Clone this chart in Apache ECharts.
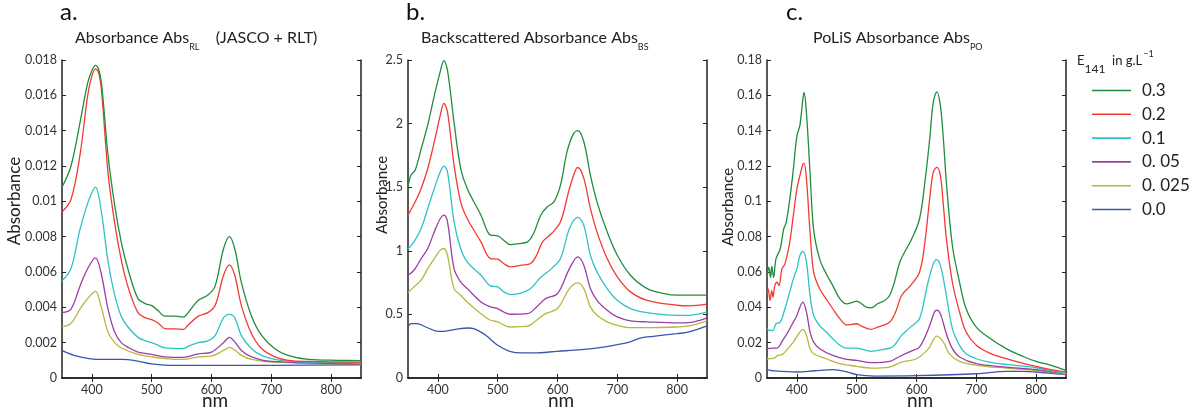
<!DOCTYPE html>
<html><head><meta charset="utf-8">
<script src="https://cdn.jsdelivr.net/npm/echarts@6/dist/echarts.min.js"></script>
<style>html,body{margin:0;padding:0;background:#fff}#c{width:1203px;height:412px}</style>
</head><body><div id="c"></div>
<script>
// ---- data ----
const seriesNames = ['0.3', '0.2', '0.1', '0. 05', '0. 025', '0.0'];
const colors = ['#1f8d3c', '#f23a32', '#2cc3c6', '#9b3ea6', '#b5b83c', '#3a56ad'];
const xTicks = [400, 500, 600, 700, 800];

// panel a: Absorbance Abs_RL
const a_30 = [[350,0.0108],[365,0.0120],[382,0.0148],[393,0.0167],[400,0.0174],[406,0.0177],[411,0.0175],[416,0.0167],[427,0.0126],[438,0.0098],[449,0.0077],[460,0.0062],[477,0.0045],[490,0.0042],[500,0.0041],[511,0.0038],[522,0.0035],[540,0.0035],[553,0.00345],[561,0.0037],[578,0.0044],[594,0.0047],[606,0.0052],[620,0.0073],[630,0.0080],[639,0.0073],[650,0.0054],[667,0.0035],[684,0.0024],[706,0.00166],[728,0.00128],[762,0.00105],[812,0.0010],[850,0.00098]];
const a_20 = [[350,0.0094],[365,0.0101],[380,0.0126],[393,0.0160],[400,0.0171],[406,0.0175],[411,0.0173],[416,0.0163],[427,0.0116],[438,0.0088],[449,0.0067],[460,0.0052],[477,0.0037],[490,0.0034],[500,0.0033],[511,0.0031],[522,0.0028],[540,0.00278],[553,0.00275],[561,0.0030],[578,0.0035],[594,0.0037],[606,0.0041],[620,0.0058],[630,0.0064],[639,0.0058],[650,0.0041],[667,0.0025],[684,0.00166],[706,0.0012],[728,0.0010],[762,0.00094],[850,0.0009]];
const a_10 = [[350,0.0055],[365,0.0062],[380,0.0084],[393,0.0099],[400,0.0105],[406,0.0108],[415,0.0096],[427,0.0066],[438,0.0047],[449,0.0035],[460,0.0029],[477,0.0023],[490,0.0021],[500,0.0020],[511,0.00185],[522,0.0017],[553,0.00166],[561,0.0018],[578,0.0020],[594,0.0021],[606,0.0024],[620,0.0034],[630,0.0036],[639,0.0034],[650,0.0024],[667,0.00166],[684,0.00128],[706,0.00105],[728,0.00094],[850,0.00085]];
const a_05 = [[350,0.0037],[365,0.0039],[380,0.0052],[393,0.0062],[406,0.0068],[415,0.0060],[427,0.0039],[438,0.0026],[449,0.0020],[460,0.00175],[477,0.00147],[500,0.00134],[522,0.0012],[553,0.00117],[578,0.00137],[600,0.00147],[620,0.0020],[630,0.0023],[640,0.0020],[650,0.00156],[667,0.0012],[700,0.00094],[850,0.0008]];
const a_025 = [[350,0.0029],[365,0.0031],[380,0.0039],[393,0.0045],[406,0.0049],[415,0.0041],[427,0.0026],[438,0.0020],[449,0.0017],[477,0.00134],[500,0.0012],[522,0.0011],[553,0.00105],[578,0.0012],[600,0.00124],[620,0.00156],[630,0.00173],[640,0.00156],[650,0.00128],[667,0.00105],[700,0.0009],[850,0.00079]];
const a_00 = [[350,0.00156],[370,0.00128],[395,0.0011],[420,0.00105],[450,0.00105],[470,0.0010],[500,0.0008],[530,0.00072],[600,0.00072],[700,0.00072],[850,0.00075]];

// panel b: Backscattered Absorbance Abs_BS
const b_30 = [[350,1.50],[355,1.595],[362,1.634],[372,1.80],[383,1.99],[394,2.22],[404,2.41],[410,2.495],[416,2.42],[427,2.01],[438,1.65],[449,1.49],[472,1.28],[488,1.123],[500,1.118],[510,1.083],[521,1.049],[535,1.057],[550,1.07],[560,1.136],[572,1.28],[583,1.346],[594,1.385],[605,1.516],[616,1.78],[627,1.923],[634,1.944],[644,1.857],[655,1.595],[666,1.385],[683,1.149],[700,0.965],[722,0.808],[750,0.703],[778,0.664],[800,0.651],[850,0.651]];
const b_20 = [[350,1.28],[362,1.385],[372,1.49],[383,1.647],[394,1.857],[404,2.067],[410,2.159],[416,2.093],[427,1.674],[438,1.385],[449,1.254],[472,1.07],[488,0.939],[500,0.934],[510,0.90],[521,0.874],[540,0.887],[555,0.90],[565,0.965],[575,1.07],[590,1.136],[605,1.228],[620,1.49],[630,1.634],[634,1.655],[644,1.569],[655,1.333],[666,1.149],[683,0.939],[700,0.795],[722,0.677],[750,0.611],[800,0.572],[820,0.567],[850,0.58]];
const b_10 = [[350,1.013],[360,1.07],[372,1.175],[383,1.333],[394,1.49],[404,1.621],[410,1.666],[416,1.621],[427,1.228],[438,1.018],[449,0.913],[472,0.808],[488,0.724],[500,0.716],[510,0.677],[521,0.656],[540,0.669],[555,0.703],[570,0.782],[590,0.86],[605,0.939],[620,1.175],[634,1.262],[644,1.20],[655,0.965],[666,0.834],[683,0.703],[700,0.611],[722,0.546],[750,0.514],[800,0.493],[820,0.493],[850,0.519]];
const b_05 = [[350,0.808],[360,0.847],[372,0.939],[383,1.018],[394,1.149],[404,1.254],[410,1.28],[416,1.228],[427,0.86],[438,0.755],[449,0.703],[472,0.598],[488,0.559],[500,0.546],[510,0.519],[521,0.501],[550,0.506],[565,0.559],[580,0.624],[600,0.664],[620,0.86],[634,0.952],[644,0.887],[655,0.703],[666,0.611],[683,0.533],[700,0.48],[722,0.449],[750,0.441],[800,0.433],[820,0.435],[850,0.472]];
const b_025 = [[350,0.672],[360,0.716],[372,0.769],[383,0.86],[394,0.939],[404,1.005],[410,1.018],[416,0.965],[427,0.703],[438,0.651],[449,0.598],[472,0.506],[488,0.454],[500,0.441],[521,0.401],[550,0.407],[565,0.454],[580,0.506],[600,0.546],[620,0.703],[634,0.748],[644,0.703],[655,0.559],[666,0.493],[683,0.441],[700,0.414],[722,0.396],[750,0.396],[800,0.401],[820,0.409],[850,0.449]];
const b_00 = [[350,0.401],[355,0.428],[365,0.428],[380,0.401],[400,0.367],[410,0.367],[430,0.383],[450,0.393],[460,0.388],[480,0.336],[500,0.257],[520,0.21],[540,0.197],[560,0.197],[600,0.21],[640,0.223],[680,0.244],[700,0.262],[720,0.283],[740,0.315],[760,0.328],[800,0.349],[820,0.362],[850,0.409]];

// panel c: PoLiS Absorbance Abs_PO
const c_30 = [[350,0.0561],[353,0.0627],[356,0.057],[358,0.0633],[361,0.057],[365,0.0674],[372,0.073],[378,0.0844],[382,0.088],[388,0.101],[394,0.118],[400,0.137],[405,0.143],[410,0.158],[412,0.1616],[416,0.150],[422,0.116],[428,0.084],[438,0.0674],[449,0.059],[460,0.0523],[472,0.0448],[483,0.042],[494,0.0429],[500,0.0435],[508,0.042],[516,0.0401],[524,0.0397],[535,0.042],[547,0.0439],[555,0.0467],[563,0.0542],[572,0.0655],[580,0.0712],[592,0.0787],[605,0.090],[614,0.1107],[622,0.135],[628,0.156],[634,0.162],[640,0.154],[645,0.135],[650,0.1107],[660,0.075],[672,0.0542],[683,0.0392],[700,0.0288],[722,0.0226],[750,0.0166],[780,0.0119],[800,0.0094],[825,0.0072],[850,0.0043]];
const c_20 = [[350,0.0476],[352,0.0505],[355,0.0439],[358,0.0495],[360,0.0458],[363,0.0523],[367,0.0542],[370,0.0523],[375,0.0618],[380,0.0646],[388,0.0768],[394,0.0919],[400,0.107],[405,0.1145],[410,0.121],[412,0.1216],[416,0.1126],[422,0.0825],[428,0.0599],[438,0.0505],[449,0.0448],[460,0.0392],[472,0.0335],[483,0.0301],[500,0.0307],[508,0.0294],[524,0.0275],[535,0.0288],[555,0.0316],[565,0.0373],[575,0.0467],[590,0.0523],[605,0.0599],[614,0.0768],[622,0.1013],[628,0.1164],[634,0.1192],[640,0.1145],[645,0.0975],[650,0.0787],[660,0.0542],[672,0.0373],[683,0.026],[700,0.0185],[722,0.0141],[750,0.0109],[780,0.0081],[800,0.0066],[825,0.0047],[850,0.0034]];
const c_10 = [[350,0.0279],[355,0.0269],[360,0.0269],[365,0.0307],[372,0.0316],[380,0.0392],[388,0.0486],[394,0.0561],[400,0.0618],[405,0.0693],[410,0.0717],[416,0.0655],[422,0.0467],[428,0.0354],[438,0.0297],[449,0.026],[460,0.0222],[472,0.0185],[483,0.0169],[500,0.0169],[524,0.0151],[545,0.0162],[560,0.0175],[575,0.0241],[590,0.0288],[605,0.0335],[618,0.0523],[628,0.0646],[634,0.067],[640,0.0636],[648,0.0505],[660,0.0279],[672,0.0185],[683,0.0137],[700,0.0109],[722,0.009],[750,0.0077],[800,0.0058],[850,0.0024]];
const c_05 = [[350,0.0166],[360,0.0169],[368,0.0171],[375,0.0207],[385,0.026],[394,0.0316],[400,0.0354],[405,0.0401],[410,0.0429],[416,0.0373],[422,0.026],[428,0.0203],[438,0.0166],[460,0.0128],[483,0.0105],[500,0.010],[524,0.0087],[555,0.0094],[570,0.0119],[590,0.0151],[605,0.0175],[620,0.0279],[630,0.0373],[634,0.0384],[640,0.0363],[650,0.025],[660,0.0166],[672,0.0119],[700,0.0081],[750,0.0062],[800,0.0047],[850,0.0021]];
const c_025 = [[350,0.0109],[362,0.0113],[368,0.0128],[375,0.0132],[385,0.0166],[394,0.0203],[405,0.026],[410,0.0275],[416,0.0241],[422,0.0166],[428,0.0137],[449,0.0109],[472,0.0081],[500,0.0066],[524,0.0056],[555,0.0062],[575,0.009],[600,0.0109],[620,0.0166],[634,0.0237],[645,0.0203],[655,0.0137],[672,0.0094],[700,0.0072],[750,0.0056],[800,0.0043],[850,0.0019]];
const c_00 = [[350,0.0047],[360,0.0041],[400,0.0034],[430,0.0041],[460,0.0047],[480,0.0038],[500,0.0019],[530,0.0011],[600,0.0013],[700,0.0024],[750,0.0038],[780,0.0038],[800,0.0034],[850,0.0019]];

const yMax = [0.018, 2.5, 0.18];
const yStep = [0.002, 0.5, 0.02];
const panelData = [[a_30,a_20,a_10,a_05,a_025,a_00],[b_30,b_20,b_10,b_05,b_025,b_00],[c_30,c_20,c_10,c_05,c_025,c_00]];

// ---- layout ----
const FONT = 'Lato, "Open Sans", sans-serif';
const gridsPx = [{left:62,top:60,width:299,height:318},{left:408,top:60,width:299,height:318},{left:767,top:60,width:299,height:318}];
const axisLine = {show:true, lineStyle:{color:'#222', width:1.5}};
const grid = [], xAxis = [], yAxis = [], series = [];
gridsPx.forEach((g, i) => {
  grid.push(Object.assign({containLabel:false}, g));
  const xCommon = {type:'value', gridIndex:i, min:350, max:850, axisLine, splitLine:{show:false},
    axisTick:{show:true, inside:true, length:4, customValues:xTicks, lineStyle:{color:'#222'}}};
  xAxis.push(Object.assign({}, xCommon, {position:'bottom',
    axisLabel:{show:true, customValues:xTicks, margin:5, fontSize:12.5, color:'#333', fontFamily:FONT}}));
  xAxis.push(Object.assign({}, xCommon, {position:'top', axisLabel:{show:false}}));
  const yCommon = {type:'value', gridIndex:i, min:0, max:yMax[i], interval:yStep[i], axisLine, splitLine:{show:false},
    axisTick:{show:true, inside:true, length:4, lineStyle:{color:'#222'}}};
  yAxis.push(Object.assign({}, yCommon, {position:'left',
    axisLabel:{show:true, margin:5, fontSize:12.5, color:'#333', fontFamily:FONT}}));
  yAxis.push(Object.assign({}, yCommon, {position:'right', axisLabel:{show:false}}));
  panelData[i].forEach((d, k) => {
    series.push({type:'line', name:seriesNames[k], xAxisIndex:2*i, yAxisIndex:2*i, data:d,
      symbol:'none', smooth:0.35, lineStyle:{width:1.3, color:colors[k]}, itemStyle:{color:colors[k]},
      z: 10 - k, animation:false});
  });
});

const sub = {fontSize:9, fontWeight:'normal', fontFamily:FONT, color:'#222', lineHeight:10, padding:[13,0,0,0], verticalAlign:'top'};
const main = {fontSize:16, fontWeight:'normal', fontFamily:FONT, color:'#222', lineHeight:20, verticalAlign:'top'};
const bigLetter = {fontSize:24, fontWeight:'normal', color:'#111', fontFamily:FONT};
const titles = [
  {text:'a.', left:60, top:0, textStyle:bigLetter, padding:0},
  {text:'b.', left:406, top:0, textStyle:bigLetter, padding:0},
  {text:'c.', left:786, top:0, textStyle:bigLetter, padding:0},
  {text:'{m|Absorbance Abs}{s|RL}{m|    (JASCO + RLT)}', left:75, top:30, padding:0, textStyle:{fontWeight:'normal', rich:{m:main, s:sub}}},
  {text:'{m|Backscattered Absorbance Abs}{s|BS}', left:421, top:30, padding:0, textStyle:{fontWeight:'normal', rich:{m:main, s:sub}}},
  {text:'{m|PoLiS Absorbance Abs}{s|PO}', left:813, top:30, padding:0, textStyle:{fontWeight:'normal', rich:{m:main, s:sub}}},
  {text:'{e|E}{s|141}{e|  in g.L}{p|−1}', left:1077, top:50, padding:0, textStyle:{fontWeight:'normal', rich:{
     e:{fontSize:13, fontWeight:'normal', fontFamily:FONT, color:'#222', lineHeight:18, verticalAlign:'top', padding:[4,0,0,0]},
     s:{fontSize:12, fontWeight:'normal', fontFamily:FONT, color:'#222', lineHeight:12, padding:[13,0,0,0], verticalAlign:'top'},
     p:{fontSize:9, fontWeight:'normal', fontFamily:FONT, color:'#222', lineHeight:10, padding:[0,0,0,1], verticalAlign:'top'}}}}
];

const graphic = [];
const yNameX = [15, 382, 728];
const yNameSize = [17, 15, 15];
const yNameY = [201, 195, 207];
[0,1,2].forEach(i => {
  graphic.push({type:'text', x:yNameX[i], y:yNameY[i], rotation:Math.PI/2,
    style:{text:'Absorbance', fontSize:yNameSize[i], fontFamily:FONT, fill:'#222', align:'center', verticalAlign:'middle'}});
  const g = gridsPx[i];
  graphic.push({type:'text', x:g.left + g.width/2 + 3.5, y:401,
    style:{text:'nm', fontSize:19, fontFamily:FONT, fill:'#222', align:'center', verticalAlign:'middle'}});
});

const chart = echarts.init(document.getElementById('c'), null, {renderer:'canvas'});
chart.setOption({
  animation:false,
  backgroundColor:'#fff',
  title: titles,
  grid, xAxis, yAxis, series, graphic,
  legend:{orient:'vertical', left:1087, top:77, itemWidth:39, itemHeight:1.6, itemGap:6.8,
    icon:'rect', data:seriesNames, selectedMode:false,
    textStyle:{fontSize:17, fontFamily:FONT, color:'#222', padding:[0,0,0,6]}}
});
</script></body></html>
